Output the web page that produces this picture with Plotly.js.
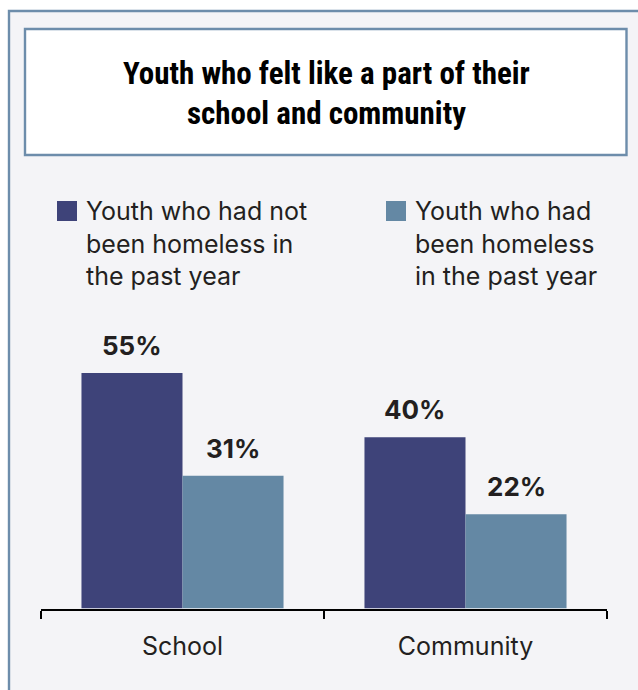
<!DOCTYPE html>
<html>
<head>
<meta charset="utf-8">
<script src="https://cdn.plot.ly/plotly-3.0.1.min.js"></script>
<style>
html,body{margin:0;padding:0;background:#ffffff;}
#chart{width:638px;height:690px;}
</style>
</head>
<body>
<div id="chart"></div>
<script>
// ---- data ----
const categories = ["School", "Community"];
const seriesNames = [
  "Youth who had not<br>been homeless in<br>the past year",
  "Youth who had<br>been homeless<br>in the past year"
];
const notHomeless = [55, 40];
const homeless = [31, 22];
const seriesColors = ["#3e4379", "#6488a4"];
const titleText = "Youth who felt like a part of their<br>school and community";

// ---- helpers for figure-pixel -> paper coords (margins are 0) ----
const W = 638, H = 690;
const px = v => v / W;
const py = v => 1 - v / H;
const borderColor = "#6d8dab";
const textColor = "#231f20";
const BARGAP = 0.286;
const plotLeft = 41, plotRight = 607;

function barTrace(name, values, color) {
  return {
    type: "bar",
    name: name,
    x: categories,
    y: values,
    marker: {color: color, line: {width: 0}},
    hoverinfo: "skip",
    showlegend: false
  };
}

const data = [
  barTrace(seriesNames[0], notHomeless, seriesColors[0]),
  barTrace(seriesNames[1], homeless, seriesColors[1])
];

// value labels above the bars (anchored to data coords, shifted to each bar's centre)
const catPx = (plotRight - plotLeft) / categories.length;
const barShift = catPx * (1 - BARGAP) / 4;
const valueLabels = [];
[notHomeless, homeless].forEach((vals, s) => {
  vals.forEach((v, i) => {
    valueLabels.push({
      xref: "x", yref: "y", x: categories[i], y: v,
      xshift: s === 0 ? -barShift : barShift, yshift: 10,
      xanchor: "center", yanchor: "bottom", showarrow: false,
      text: "<b>" + v + "%</b>",
      font: {family: "Inter, Roboto, sans-serif", size: 26, color: textColor}
    });
  });
});

// custom legend: squares + multi-line text
const legendX = [57, 386];
const shapes = [
  // light panel with border (extends beyond right/bottom edge)
  {type: "rect", xref: "paper", yref: "paper", x0: px(9), x1: px(720), y0: py(11), y1: py(760),
   fillcolor: "#f4f4f7", line: {color: borderColor, width: 2.4}, layer: "below"},
  // title box
  {type: "rect", xref: "paper", yref: "paper", x0: px(25), x1: px(626.5), y0: py(29), y1: py(155),
   fillcolor: "#ffffff", line: {color: borderColor, width: 2.4}, layer: "below"}
];
const annotations = [
  {xref: "paper", yref: "paper", x: px(326), y: py(53), xanchor: "center", yanchor: "top",
   text: "<b>" + titleText + "</b>", showarrow: false, align: "center",
   font: {family: "'Roboto Condensed', 'DejaVu Sans Condensed', 'Liberation Sans Narrow', Roboto, sans-serif", size: 31, color: "#000000"}}
].concat(valueLabels);
seriesNames.forEach((n, i) => {
  shapes.push({type: "rect", xref: "paper", yref: "paper",
    x0: px(legendX[i]), x1: px(legendX[i] + 20), y0: py(201), y1: py(221),
    fillcolor: seriesColors[i], line: {width: 0}, layer: "above"});
  annotations.push({xref: "paper", yref: "paper", x: px(legendX[i] + 28), y: py(195),
    xanchor: "left", yanchor: "top", align: "left", showarrow: false, borderpad: 0,
    text: n, font: {family: "Inter, Roboto, sans-serif", size: 25, color: textColor}});
});

const layout = {
  width: W, height: H,
  margin: {l: 0, r: 0, t: 0, b: 0},
  paper_bgcolor: "#ffffff",
  plot_bgcolor: "rgba(0,0,0,0)",
  barmode: "group",
  bargap: BARGAP,
  bargroupgap: 0,
  showlegend: false,
  xaxis: {
    domain: [px(plotLeft), px(plotRight)],
    type: "category",
    range: [-0.5, 1.5],
    showline: true, linecolor: "#000000", linewidth: 2,
    ticks: "outside", ticklen: 8, tickwidth: 2, tickcolor: "#000000",
    tickson: "boundaries",
    ticklabelstandoff: 14,
    showgrid: false, zeroline: false,
    tickfont: {family: "Inter, Roboto, sans-serif", size: 25, color: textColor},
    fixedrange: true
  },
  yaxis: {
    domain: [py(608.5), py(351.7)],
    range: [0, 60],
    visible: false,
    showgrid: false, zeroline: false,
    fixedrange: true
  },
  shapes: shapes,
  annotations: annotations,
  font: {family: "Inter, Roboto, sans-serif", color: textColor}
};

Plotly.newPlot("chart", data, layout, {displayModeBar: false, staticPlot: true});
</script>
</body>
</html>
